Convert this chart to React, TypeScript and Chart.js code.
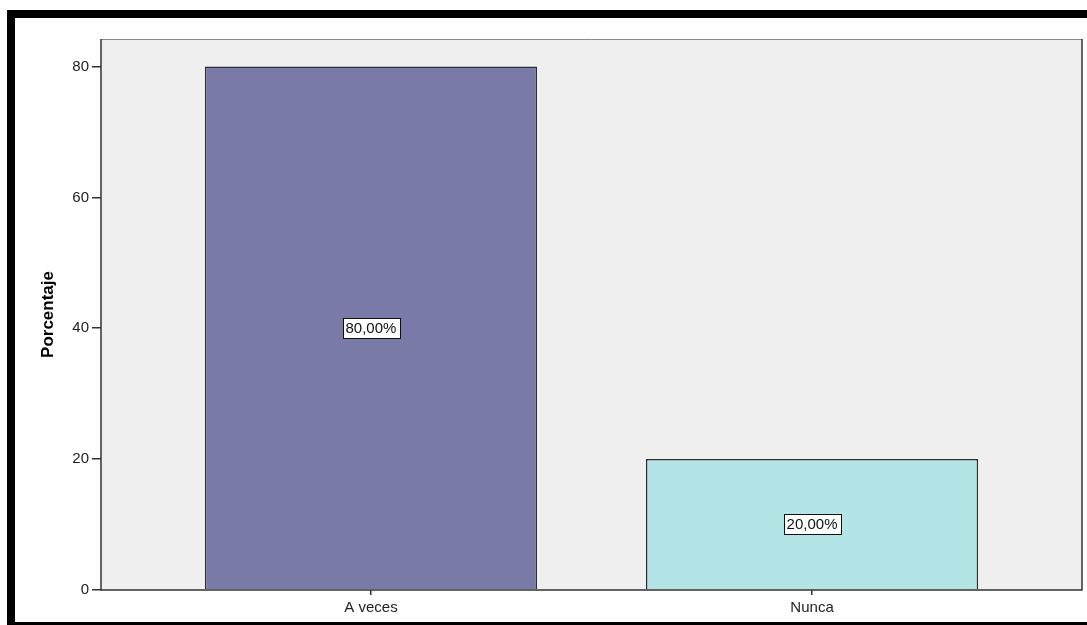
import React, { useEffect, useRef } from "react";
import { Chart, registerables } from "chart.js";

Chart.register(...registerables);

const categories = ["A veces", "Nunca"];
const percentages = [80, 20];
const barColors = ["#7A7AA8", "#B3E5E6"];
const yTicks = [0, 20, 40, 60, 80];
const yMax = 84.2;
const xMin = -0.612;
const xMax = 1.612;

const FONT = "'Liberation Sans', Arial, sans-serif";

const panelPlugin = {
  id: "panel",
  beforeDraw(chart: any) {
    const { ctx, chartArea: a } = chart;
    ctx.save();
    ctx.fillStyle = "#EFEFEF";
    ctx.fillRect(a.left, a.top, a.right - a.left, a.bottom - a.top);
    ctx.restore();
  },
  afterDatasetsDraw(chart: any) {
    const { ctx, chartArea: a } = chart;
    ctx.save();
    ctx.strokeStyle = "#8a8a8a";
    ctx.lineWidth = 1;
    ctx.beginPath();
    ctx.moveTo(a.left, a.top + 0.5);
    ctx.lineTo(a.right, a.top + 0.5);
    ctx.stroke();
    ctx.strokeStyle = "#333";
    ctx.lineWidth = 1.5;
    ctx.beginPath();
    ctx.moveTo(a.left, a.top);
    ctx.lineTo(a.left, a.bottom);
    ctx.lineTo(a.right, a.bottom);
    ctx.lineTo(a.right, a.top);
    ctx.stroke();

    const meta = chart.getDatasetMeta(0);
    ctx.font = `15px ${FONT}`;
    ctx.textAlign = "center";
    ctx.textBaseline = "middle";
    meta.data.forEach((el: any, i: number) => {
      const v = percentages[i];
      const text = v.toFixed(2).replace(".", ",") + "%";
      const cx = el.x;
      const cy = (el.y + el.base) / 2;
      const w = ctx.measureText(text).width + 6;
      const h = 20;
      const x0 = Math.round(cx - w / 2) + 0.5;
      const y0 = Math.round(cy - h / 2) + 0.5;
      ctx.fillStyle = "#ffffff";
      ctx.fillRect(x0, y0, Math.round(w), h);
      ctx.strokeStyle = "#111";
      ctx.lineWidth = 1;
      ctx.strokeRect(x0, y0, Math.round(w), h);
      ctx.fillStyle = "#111";
      ctx.fillText(text, cx, cy + 1);
    });
    ctx.restore();
  },
};

export default function App() {
  const canvasRef = useRef<HTMLCanvasElement | null>(null);

  useEffect(() => {
    const canvas = canvasRef.current;
    if (!canvas) return;
    const chart = new Chart(canvas, {
      type: "bar",
      data: {
        datasets: [
          {
            data: percentages.map((v, i) => ({ x: i, y: v })),
            backgroundColor: barColors,
            borderColor: "#2e2e2e",
            borderWidth: 1.5,
            categoryPercentage: 1,
            barPercentage: 0.753,
          },
        ],
      },
      options: {
        animation: false,
        responsive: false,
        maintainAspectRatio: false,
        layout: { padding: { top: 39, right: 5, left: 0, bottom: 0 } },
        plugins: {
          legend: { display: false },
          tooltip: { enabled: false },
        },
        scales: {
          x: {
            type: "linear",
            min: xMin,
            max: xMax,
            offset: false,
            afterBuildTicks: (scale: any) => {
              scale.ticks = categories.map((_, i) => ({ value: i }));
            },
            afterFit: (scale: any) => {
              scale.height = 35;
            },
            ticks: {
              callback: (value: any) => categories[Number(value)] ?? "",
              font: { family: FONT, size: 15 },
              color: "#222",
              padding: 4,
              maxRotation: 0,
              autoSkip: false,
            },
            grid: {
              display: true,
              offset: false,
              drawOnChartArea: false,
              drawTicks: true,
              tickLength: 5,
              color: "#333",
              lineWidth: 1.5,
            },
            border: { display: false },
          },
          y: {
            type: "linear",
            min: 0,
            max: yMax,
            afterBuildTicks: (scale: any) => {
              scale.ticks = yTicks.map((v) => ({ value: v }));
            },
            afterFit: (scale: any) => {
              scale.width = 101;
            },
            ticks: {
              font: { family: FONT, size: 15 },
              color: "#222",
              padding: 3,
            },
            grid: {
              display: true,
              drawOnChartArea: false,
              drawTicks: true,
              tickLength: 9,
              color: "#333",
              lineWidth: 1.5,
            },
            border: { display: false },
            title: {
              display: true,
              text: "Porcentaje",
              font: { family: FONT, size: 17, weight: "bold" },
              color: "#000",
              padding: { top: 38, bottom: 0 },
            },
          },
        },
      },
      plugins: [panelPlugin],
    });
    return () => chart.destroy();
  }, []);

  return (
    <div
      style={{
        position: "fixed",
        left: 0,
        top: 0,
        width: 1087,
        height: 625,
        background: "#fff",
        overflow: "hidden",
      }}
    >
      <canvas
        ref={canvasRef}
        width={1087}
        height={625}
        style={{ position: "absolute", left: 0, top: 0, width: 1087, height: 625 }}
      />
      <div style={{ position: "absolute", left: 7, top: 10, width: 1080, height: 8, background: "#000" }} />
      <div style={{ position: "absolute", left: 7, top: 10, width: 8, height: 615, background: "#000" }} />
      <div style={{ position: "absolute", left: 7, top: 622, width: 1080, height: 3, background: "#000" }} />
    </div>
  );
}
